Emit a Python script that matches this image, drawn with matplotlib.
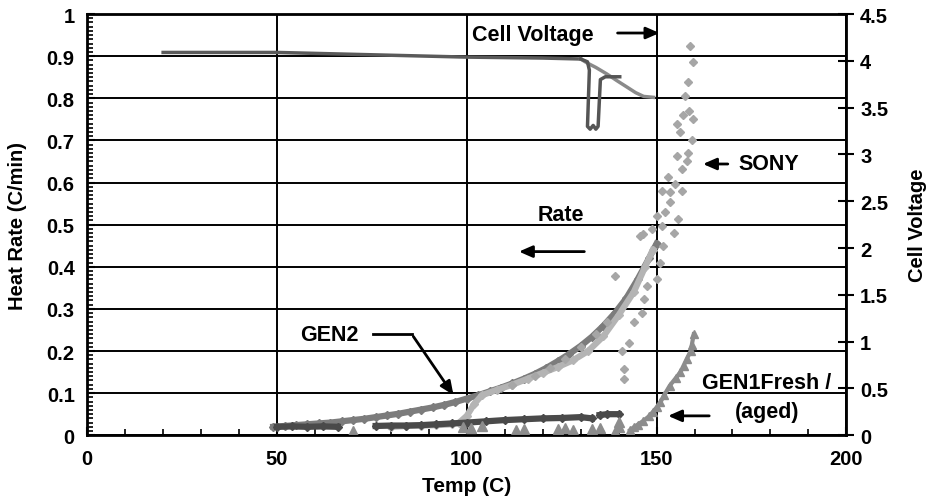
import numpy as np
import matplotlib.pyplot as plt
from matplotlib.ticker import MultipleLocator

plt.rcParams["font.family"] = ["Liberation Sans", "DejaVu Sans"]
plt.rcParams["font.weight"] = "bold"

nan = np.nan

# =========================
# Heat rate data (C/min)
# =========================
gen2_t = [49, 52, 55, 58, 61, 64, 67, 70, 73, 76, 79, 82, 85, 88, 91, 94, 97, 100,
          103, 106, 109, 112, 115, 118, 121, 124, 127, 130, 133, 136, 139, 142, 145, 148, 150]
gen2_r = [0.020, 0.022, 0.024, 0.026, 0.028, 0.030, 0.033, 0.036, 0.039, 0.043, 0.047,
          0.051, 0.056, 0.061, 0.066, 0.072, 0.079, 0.087, 0.095, 0.104, 0.113, 0.123,
          0.134, 0.146, 0.160, 0.176, 0.193, 0.212, 0.234, 0.260, 0.290, 0.325, 0.370,
          0.420, 0.455]

light_t = [80, 84, 88, 92, 96, 98, 100, 102, 104, 108, 112, 116, 120, 124, 128, 132,
           136, 140, 144, 147, 149]
light_r = [0.020, 0.022, 0.023, 0.024, 0.026, 0.030, 0.046, 0.075, 0.095, 0.108, 0.120,
           0.134, 0.148, 0.162, 0.178, 0.200, 0.235, 0.285, 0.340, 0.400, 0.440]

fresh_t = [50, 54, 58, 62, 66, nan, 76, 80, 84, 88, 92, 96, 100, 105, 110, 115, 120,
           125, 130, 133, nan, 135, 137, 140]
fresh_r = [0.020, 0.021, 0.020, 0.021, 0.020, nan, 0.022, 0.023, 0.023, 0.024, 0.026,
           0.028, 0.030, 0.033, 0.036, 0.038, 0.040, 0.041, 0.043, 0.040, nan, 0.048,
           0.050, 0.050]

aged_low_t = [70, 99, 101, 104, 113, 115, 124, 126, 128, 133, 135, 139, 140, 140]
aged_low_r = [0.010, 0.020, 0.018, 0.022, 0.012, 0.015, 0.014, 0.016, 0.012, 0.015,
              0.018, 0.008, 0.020, 0.032]

aged_t = [143, 144, 145, 146.5, 148, 149, 150, 151, 152, 153.5, 155, 156.3, 157.1, 158,
          159, 159.3, 159.8]
aged_r = [0.012, 0.019, 0.025, 0.034, 0.045, 0.055, 0.066, 0.078, 0.095, 0.118, 0.135,
          0.150, 0.165, 0.182, 0.200, 0.215, 0.240]

sony_t = [112, 118, 122, 126, 130, 134, 137, 139.1, 140.9, 141.3, 141.3, 142.7, 144,
          145.7, 146.1, 146.5, 146.6, 147.5, 148.8, 150.1, 150.1, 151, 151.4, 151.4,
          151.6, 152.3, 153.1, 153.6, 153.6, 154.5, 154.9, 155.3, 155.5, 155.7, 156.3,
          156.7, 156.7, 157.6, 158, 158.4, 158.4, 158.9, 159.3, 159.6, 157, 158.5, 159.7]
sony_r = [0.12, 0.14, 0.16, 0.18, 0.21, 0.24, 0.27, 0.378, 0.20, 0.157, 0.133, 0.22,
          0.268, 0.473, 0.29, 0.477, 0.323, 0.355, 0.489, 0.37, 0.52, 0.41, 0.497, 0.58,
          0.45, 0.53, 0.613, 0.577, 0.553, 0.48, 0.596, 0.663, 0.74, 0.513, 0.72, 0.632,
          0.58, 0.806, 0.65, 0.838, 0.67, 0.925, 0.70, 0.885, 0.76, 0.77, 0.75]

# =========================
# Cell voltage data (V)
# =========================
v_main_t = [20, 50, 70, 90, 100, 120, 130]
v_main_v = [4.09, 4.09, 4.07, 4.05, 4.04, 4.03, 4.02]

v_a_t = [130, 131.6, 134, 136.9, 139.5, 142.2, 144.5, 146.6, 149.2]
v_a_v = [4.02, 3.98, 3.93, 3.86, 3.79, 3.72, 3.66, 3.62, 3.61]

v_b_t = [130, 131.8, 132.3, 131.8, 132.5, 133.3, 134, 134.6, 135.2, 136.5, 140.3]
v_b_v = [4.02, 3.99, 3.90, 3.30, 3.27, 3.31, 3.27, 3.30, 3.80, 3.83, 3.83]

# =========================
# Plot
# =========================
fig = plt.figure(figsize=(9.28, 5.02), dpi=100)
ax = fig.add_axes([0.094, 0.131, 0.818, 0.839])

ax.plot(gen2_t, gen2_r, color="#7c7c7c", lw=4.5, marker="D", ms=4.5, zorder=3)
ax.plot(light_t, light_r, color="#b4b4b4", lw=4.5, marker="D", ms=4.5, zorder=3)
ax.plot(fresh_t, fresh_r, color="#4a4a4a", lw=4.5, marker="D", ms=4.5, zorder=3)
ax.plot(aged_low_t, aged_low_r, ls="none", color="#8c8c8c", marker="^", ms=7, zorder=3)
ax.plot(aged_t, aged_r, color="#8c8c8c", lw=3, marker="^", ms=6, zorder=3)
ax.plot(sony_t, sony_r, ls="none", color="#a6a6a6", marker="D", ms=4, zorder=4)

ax.set_xlim(0, 200)
ax.set_ylim(0, 1)
ax.xaxis.set_major_locator(MultipleLocator(50))
ax.xaxis.set_minor_locator(MultipleLocator(10))
ax.yaxis.set_major_locator(MultipleLocator(0.1))
ax.yaxis.set_minor_locator(MultipleLocator(0.01))
ax.set_yticks(np.arange(0, 1.01, 0.1))
ax.set_yticklabels(["0", "0.1", "0.2", "0.3", "0.4", "0.5", "0.6", "0.7", "0.8", "0.9", "1"])
ax.grid(True, which="major", color="black", lw=1.4)
ax.tick_params(which="major", direction="in", length=6, width=1.5, labelsize=14.5, pad=9)
ax.tick_params(which="minor", direction="in", length=4, width=1.2)
ax.tick_params(axis="x", pad=10)
for s in ax.spines.values():
    s.set_linewidth(2)

ax.set_xlabel("Temp (C)", fontsize=15, fontweight="bold", labelpad=6)
ax.set_ylabel("Heat Rate (C/min)", fontsize=14.5, fontweight="bold", labelpad=14)

ax2 = ax.twinx()
ax2.plot(v_main_t, v_main_v, color="#5a5a5a", lw=2.5, zorder=3)
ax2.plot(v_a_t, v_a_v, color="#8a8a8a", lw=2.5, zorder=3)
ax2.plot(v_b_t, v_b_v, color="#555555", lw=2.5, zorder=3)
ax2.set_ylim(0, 4.5)
ax2.set_yticks(np.arange(0, 4.51, 0.5))
ax2.set_yticklabels(["0", "0.5", "1", "1.5", "2", "2.5", "3", "3.5", "4", "4.5"])
ax2.tick_params(direction="inout", length=12, width=1.5, labelsize=14.5, pad=4)
ax2.set_ylabel("Cell Voltage", fontsize=14.5, fontweight="bold", labelpad=14)

# Annotations
arrow = dict(arrowstyle="-|>,head_length=0.8,head_width=0.35", color="black", lw=2)
fs = 15.5
ax.text(101.5, 0.952, "Cell Voltage", fontsize=fs, fontweight="bold", va="center")
ax.annotate("", xy=(151.5, 0.955), xytext=(139, 0.955), arrowprops=arrow)

ax.text(171.5, 0.644, "SONY", fontsize=fs, fontweight="bold", va="center")
ax.annotate("", xy=(161.5, 0.644), xytext=(169.5, 0.644), arrowprops=arrow)

ax.text(118.6, 0.525, "Rate", fontsize=fs, fontweight="bold", va="center")
ax.annotate("", xy=(113, 0.436), xytext=(131.7, 0.436), arrowprops=arrow)

ax.text(56, 0.24, "GEN2", fontsize=fs, fontweight="bold", va="center")
ax.plot([75.4, 85.5], [0.24, 0.24], color="black", lw=2, zorder=5)
ax.annotate("", xy=(96.9, 0.09), xytext=(85.5, 0.24), arrowprops=arrow)

ax.text(179, 0.126, "GEN1Fresh /", fontsize=fs, fontweight="bold", ha="center", va="center")
ax.text(179, 0.057, "(aged)", fontsize=fs, fontweight="bold", ha="center", va="center")
ax.annotate("", xy=(152.3, 0.046), xytext=(164.6, 0.046), arrowprops=arrow)

plt.savefig("out.png", dpi=100)
